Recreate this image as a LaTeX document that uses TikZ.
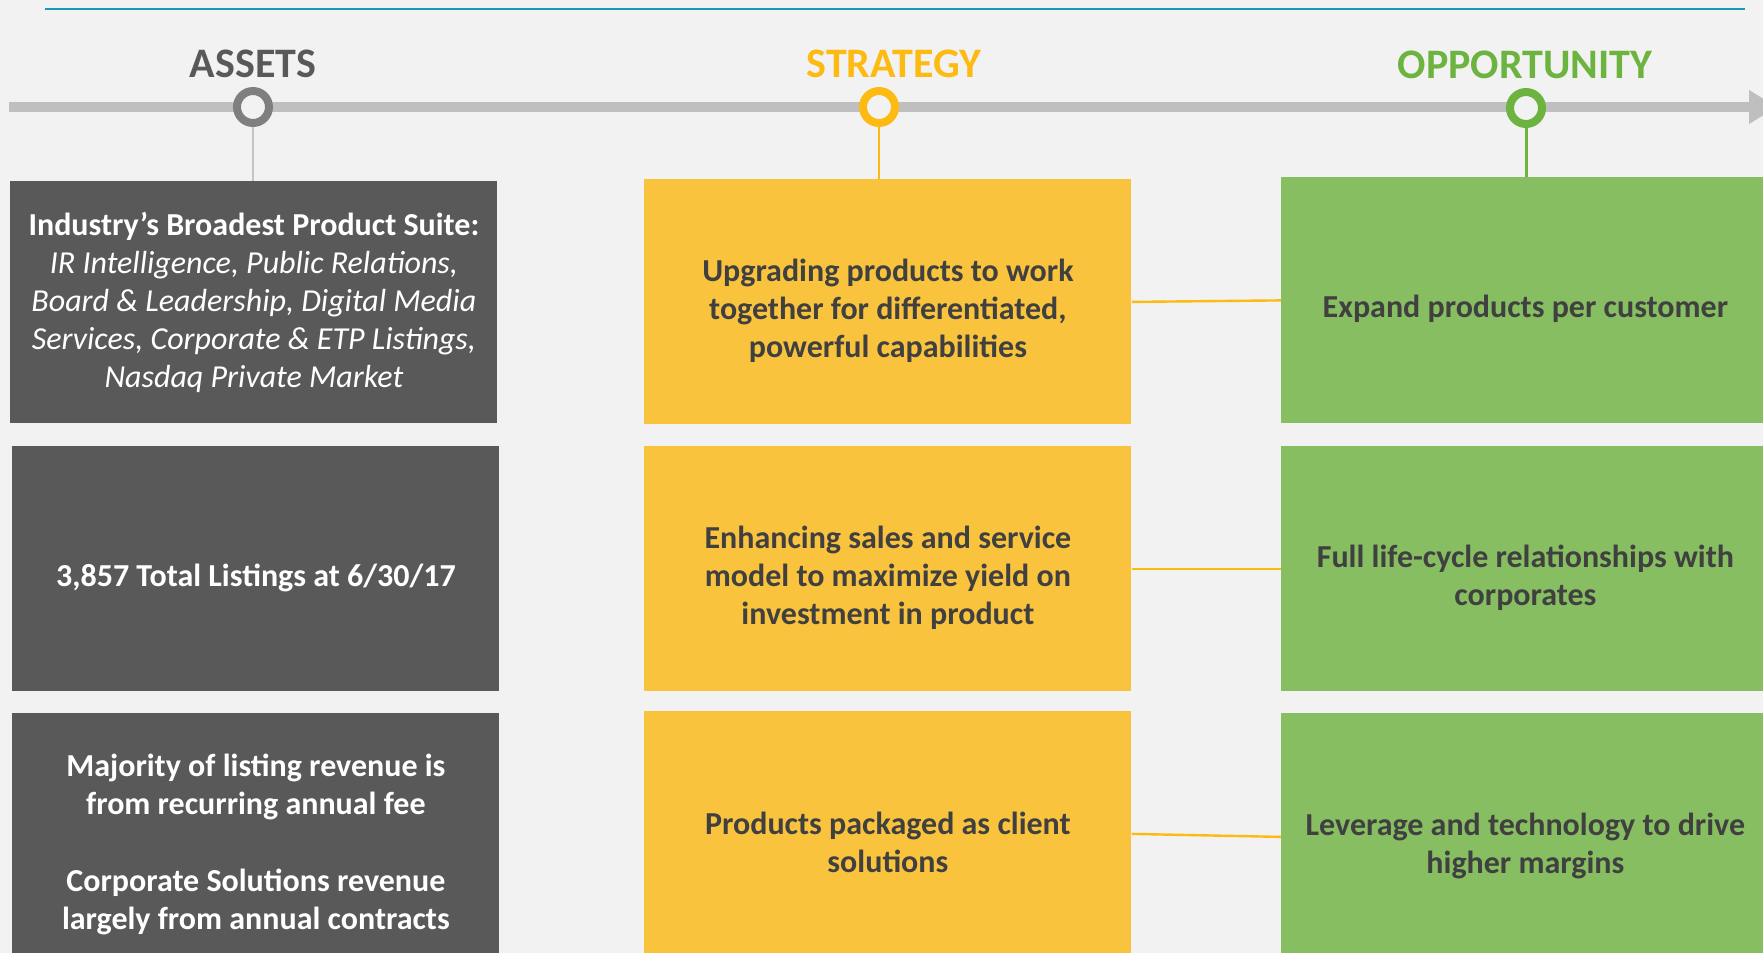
\documentclass[tikz,border=0pt]{standalone}
\usepackage{fontspec}
\setmainfont{Carlito}
\usetikzlibrary{arrows.meta,positioning}

\definecolor{bgc}{HTML}{F2F2F2}
\definecolor{topblue}{HTML}{1B98B4}
\definecolor{lanegray}{HTML}{BFBFBF}
\definecolor{assetgray}{HTML}{595959}
\definecolor{ringgray}{HTML}{7F7F7F}
\definecolor{stemgray}{HTML}{C4C4C4}
\definecolor{stratyellow}{HTML}{F9C33E}
\definecolor{stratline}{HTML}{FDBA12}
\definecolor{oppgreen}{HTML}{87BE62}
\definecolor{oppline}{HTML}{6DB33F}
\definecolor{darktext}{HTML}{404040}

% taller first line, pushes the text block down a little
\newcommand{\padtop}{\rule{0pt}{20pt}}

\tikzset{
  box/.style={rectangle, anchor=north west, inner sep=0pt, minimum width=243.5pt,
    minimum height=122.5pt, align=center, font=\fontsize{16}{19.1}\selectfont\bfseries},
  assetbox/.style={box, fill=assetgray, text=white},
  stratbox/.style={box, fill=stratyellow, text=darktext},
  oppbox/.style={box, fill=oppgreen, text=darktext, minimum width=244pt},
  ring/.style={circle, draw, line width=4pt, minimum size=16pt, inner sep=0pt, fill=bgc},
  heading/.style={font=\fontsize{21}{25}\selectfont\bfseries},
  link/.style={stratline, line width=1.2pt}
}

\begin{document}
\begin{tikzpicture}[x=0.5pt,y=-0.5pt]
%background
\fill[bgc] (0,0) rectangle (1763,953);
\useasboundingbox (0,0) rectangle (1763,953);
%top rule
\coordinate (rule0) at (45,9);
\coordinate (rule1) at (1745,9);
\draw[topblue, line width=1.1pt] (rule0) -- (rule1);
%timeline
\coordinate (lane0) at (9,107);
\coordinate (lane1) at (1777,107);
\draw[lanegray, line width=5pt, -{Triangle[length=14pt,width=16pt]}] (lane0) -- (lane1);
%headings
\node[heading, text=assetgray] (tas) at (253,64) {ASSETS};
\node[heading, text=stratline] (tst) at (894,64) {STRATEGY};
\node[heading, text=oppline] (top) at (1525,65) {OPPORTUNITY};
%assets column
\node[assetbox, minimum height=121pt] (as1) at (10,181)
  {Industry’s Broadest Product Suite:\\
   \mdseries\itshape IR Intelligence, Public Relations,\\
   \mdseries\itshape Board \& Leadership, Digital Media\\
   \mdseries\itshape Services, Corporate \& ETP Listings,\\
   \mdseries\itshape Nasdaq Private Market};
\node[assetbox] (as2) at (12,446)
  {\padtop 3,857 Total Listings at 6/30/17};
\node[assetbox] (as3) at (12,713)
  {\padtop Majority of listing revenue is\\ from recurring annual fee\\[19.1pt]
   Corporate Solutions revenue\\ largely from annual contracts};
%strategy column
\node[stratbox] (st1) at (644,179)
  {\padtop Upgrading products to work\\ together for differentiated,\\ powerful capabilities};
\node[stratbox] (st2) at (644,446)
  {\padtop Enhancing sales and service\\ model to maximize yield on\\ investment in product};
\node[stratbox] (st3) at (644,711)
  {\padtop Products packaged as client\\ solutions};
%opportunity column
\node[oppbox, minimum height=123pt] (op1) at (1281,177)
  {\padtop Expand products per customer};
\node[oppbox] (op2) at (1281,446)
  {\padtop Full life-cycle relationships with\\ corporates};
\node[oppbox, minimum height=123.5pt] (op3) at (1281,713)
  {\padtop Leverage and technology to drive\\ higher margins};
%rings on the timeline
\node[ring, draw=ringgray] (cas) at (253,107) {};
\node[ring, draw=stratline] (cst) at (879,107) {};
\node[ring, draw=oppline] (cop) at (1526,108) {};
%stems
\draw[stemgray, line width=1.3pt] (cas.south) -- (cas.south |- as1.north);
\draw[stratline, line width=1.4pt] (cst.south) -- (cst.south |- st1.north);
\draw[oppline, line width=1.5pt] (cop.south) -- (cop.south |- op1.north);
%links strategy to opportunity
\draw[link] (st1.east) -- (op1.west);
\draw[link] (st2.east) -- (op2.west);
\draw[link] (st3.east) -- (op3.west);
\end{tikzpicture}
\end{document}
